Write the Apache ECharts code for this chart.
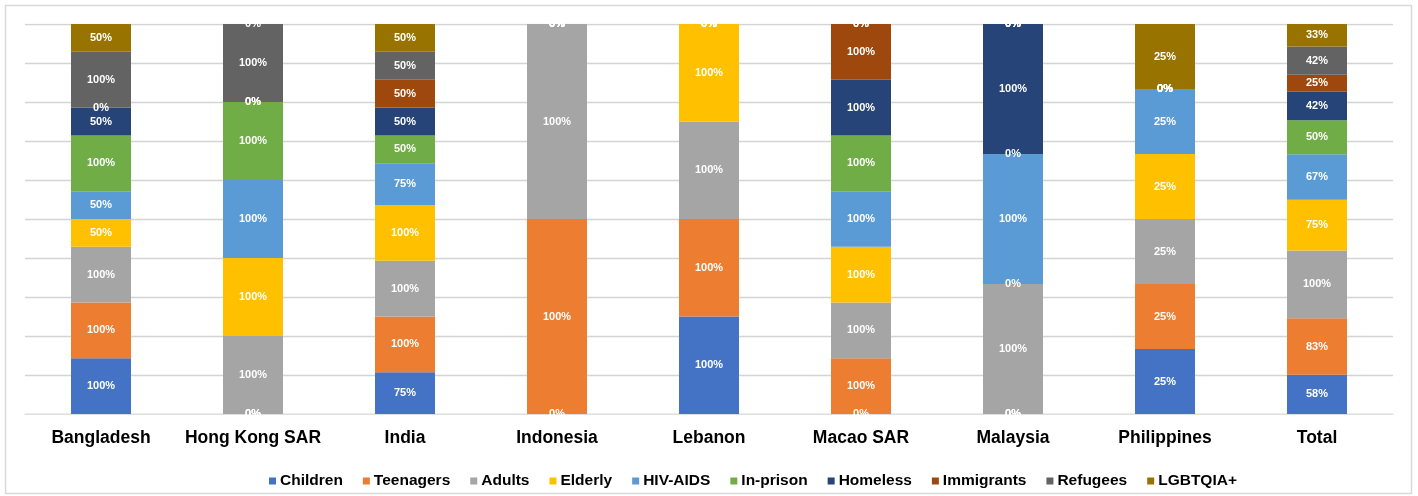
<!DOCTYPE html>
<html>
<head>
<meta charset="utf-8">
<script src="https://cdn.jsdelivr.net/npm/echarts@6/dist/echarts.min.js"></script>
<style>
  html, body { margin: 0; padding: 0; background: #ffffff; }
  #chart { width: 1418px; height: 496px; }
</style>
</head>
<body>
<div id="chart"></div>
<script>
// Coverage by population group, in percent, per location
const categories = ['Bangladesh', 'Hong Kong SAR', 'India', 'Indonesia', 'Lebanon', 'Macao SAR', 'Malaysia', 'Philippines', 'Total'];
const groupNames = ['Children', 'Teenagers', 'Adults', 'Elderly', 'HIV-AIDS', 'In-prison', 'Homeless', 'Immigrants', 'Refugees', 'LGBTQIA+'];
const children   = [100,   0,  75,   0, 100,   0,   0, 25,  58];
const teenagers  = [100,   0, 100, 100, 100, 100,   0, 25,  83];
const adults     = [100, 100, 100, 100, 100, 100, 100, 25, 100];
const elderly    = [ 50, 100, 100,   0, 100, 100,   0, 25,  75];
const hivAids    = [ 50, 100,  75,   0,   0, 100, 100, 25,  67];
const inPrison   = [100, 100,  50,   0,   0, 100,   0,  0,  50];
const homeless   = [ 50,   0,  50,   0,   0, 100, 100,  0,  42];
const immigrants = [  0,   0,  50,   0,   0, 100,   0,  0,  25];
const refugees   = [100, 100,  50,   0,   0,   0,   0,  0,  42];
const lgbtqia    = [ 50,   0,  50,   0,   0,   0,   0, 25,  33];

const groupColors = ['#4472C4', '#ED7D31', '#A5A5A5', '#FFC000', '#5B9BD5', '#70AD47', '#264478', '#9E480E', '#636363', '#997300'];

const rows = [children, teenagers, adults, elderly, hivAids, inPrison, homeless, immigrants, refugees, lgbtqia];

// each column is scaled to 100% of its own total (100% stacked column)
const totals = categories.map((_, i) => rows.reduce((s, r) => s + r[i], 0));

const series = rows.map((row, k) => ({
  name: groupNames[k],
  type: 'bar',
  stack: 'all',
  barWidth: 60,
  itemStyle: { color: groupColors[k] },
  label: {
    show: true,
    position: 'inside',
    color: '#ffffff',
    fontFamily: 'Liberation Sans, Arial, sans-serif',
    fontWeight: 'bold',
    fontSize: 11,
    formatter: p => rows[k][p.dataIndex] + '%'
  },
  emphasis: { disabled: true },
  data: row.map((v, i) => v / totals[i])
}));

const chart = echarts.init(document.getElementById('chart'), null, { renderer: 'canvas' });
chart.setOption({
  animation: false,
  backgroundColor: '#ffffff',
  grid: { left: 25, right: 25, top: 24, height: 390 },
  xAxis: {
    type: 'category',
    data: categories,
    axisLine: { show: true, lineStyle: { color: '#d4d4d4', width: 1.3 } },
    axisTick: { show: false },
    axisLabel: {
      interval: 0,
      margin: 15,
      color: '#000000',
      fontFamily: 'Liberation Sans, Arial, sans-serif',
      fontWeight: 'bold',
      fontSize: 17.5
    }
  },
  yAxis: {
    type: 'value',
    min: 0,
    max: 1,
    interval: 0.1,
    axisLabel: { show: false },
    axisLine: { show: false },
    axisTick: { show: false },
    splitLine: { lineStyle: { color: '#d4d4d4', width: 1.3 } }
  },
  legend: {
    top: 473,
    left: 269,
    padding: 0,
    icon: 'rect',
    itemWidth: 7,
    itemHeight: 7,
    itemGap: 20,
    textStyle: {
      color: '#000000',
      fontFamily: 'Liberation Sans, Arial, sans-serif',
      fontWeight: 'bold',
      fontSize: 15.5,
      padding: [0, 0, 0, -1]
    },
    data: groupNames
  },
  graphic: [
    // chart frame
    {
      type: 'rect', z: 100, silent: true,
      shape: { x: 5.5, y: 5.5, width: 1406, height: 488 },
      style: { fill: 'none', stroke: '#d9d9d9', lineWidth: 1.5 }
    },
    // labels are clipped at the plot edges
    {
      type: 'rect', z: 99, silent: true,
      shape: { x: 20, y: 7, width: 1380, height: 16.4 },
      style: { fill: '#ffffff' }
    },
    {
      type: 'rect', z: 99, silent: true,
      shape: { x: 20, y: 414.7, width: 1380, height: 10 },
      style: { fill: '#ffffff' }
    }
  ],
  series: series
});
</script>
</body>
</html>
